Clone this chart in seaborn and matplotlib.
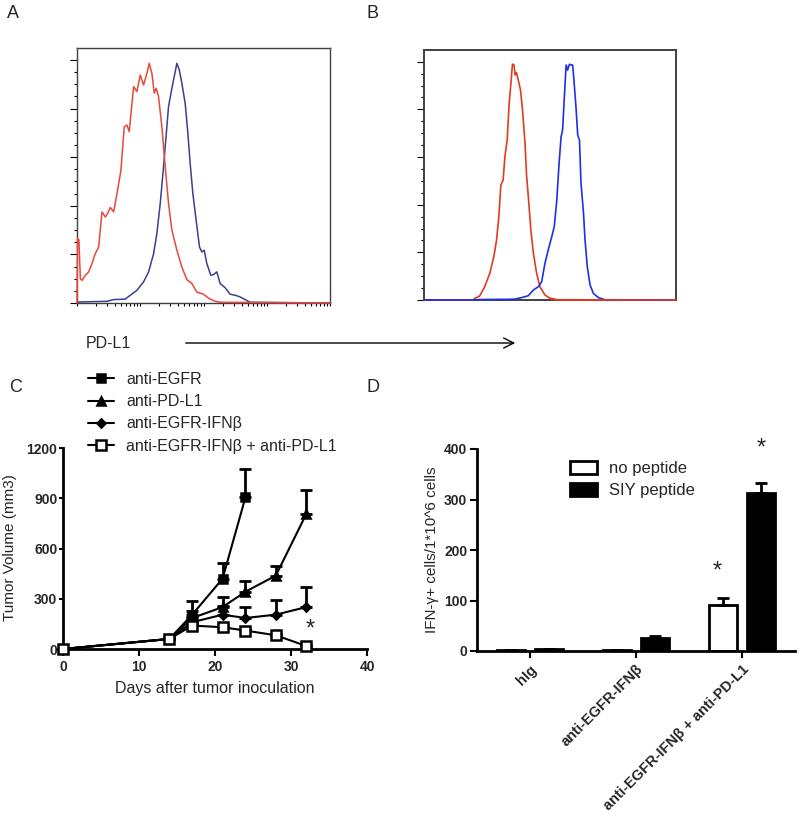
import numpy as np
import pandas as pd
import matplotlib
matplotlib.use("Agg")
import matplotlib.pyplot as plt
from matplotlib.ticker import FixedLocator, LogLocator, NullFormatter
import seaborn as sns

W, H = 800, 821

# panel A - flow histogram, x in log10 decades, y in % of max
a_red_dec = [0.000, 0.008, 0.030, 0.053, 0.079, 0.132, 0.184, 0.237, 0.289, 0.342, 0.395, 0.447,
             0.484, 0.526, 0.579, 0.632, 0.695, 0.747, 0.789, 0.826, 0.895, 0.947, 1.000, 1.053,
             1.105, 1.142, 1.184, 1.221, 1.253, 1.289, 1.342, 1.395, 1.447, 1.500, 1.579, 1.658,
             1.737, 1.816, 1.895, 2.000, 2.079, 2.184, 2.263, 4.000]
a_red_pct = [0, 26.5, 26.0, 10.0, 9.3, 11.4, 12.8, 16.2, 20.3, 23.0, 37.5, 35.4,
             36.8, 39.3, 37.5, 45.0, 54.7, 72.5, 73.2, 70.5, 89.0, 87.0, 93.8, 89.7,
             94.5, 98.6, 94.5, 86.3, 88.3, 84.9, 72.5, 56.0, 41.0, 30.0, 21.7, 14.8,
             9.6, 8.0, 4.5, 3.6, 2.0, 0.7, 0.3, 0]
a_blue_dec = [0.000, 0.474, 0.579, 0.763, 0.842, 0.947, 1.053, 1.132, 1.211, 1.263, 1.316, 1.368,
              1.421, 1.447, 1.500, 1.553, 1.579, 1.616, 1.658, 1.711, 1.753, 1.789, 1.832, 1.884,
              1.937, 1.974, 2.011, 2.053, 2.116, 2.158, 2.211, 2.263, 2.342, 2.421, 2.500, 2.579,
              2.658, 2.737, 4.000]
a_blue_pct = [0.4, 0.7, 1.4, 1.6, 3.2, 5.2, 8.7, 12.8, 20.3, 28.6, 41.0, 56.0,
              72.5, 80.8, 88.3, 95.2, 98.6, 96.0, 90.4, 82.0, 69.8, 57.4, 45.0, 34.0,
              23.0, 21.0, 21.7, 16.2, 11.4, 11.7, 12.8, 8.0, 6.3, 3.6, 3.2, 2.5,
              1.4, 0.3, 0]

# panel B - flow histogram, x in % of axis, y in % of max
b_red_x = [0, 19.5, 20.2, 22.1, 24.1, 26.1, 27.7, 28.8, 29.7, 30.5, 31.4, 32.1, 33.0, 33.8,
           34.5, 35.1, 35.7, 36.2, 36.7, 37.4, 38.3, 39.1, 40.1, 40.7, 41.5, 42.4, 43.4, 44.7,
           46.0, 48.0, 50.0, 52.7, 100]
b_red_pct = [0, 0, 0.7, 1.7, 5.6, 11.2, 18.2, 25.2, 35.0, 48.3, 50.3, 60.1, 67.1, 82.5,
             90.9, 99.0, 98.6, 94.4, 95.4, 92.3, 88.1, 79.7, 65.7, 52.4, 42.0, 29.4, 19.6, 11.2,
             5.6, 2.1, 0.7, 0.1, 0]
b_blue_x = [0, 19.5, 22.1, 34.1, 36.1, 38.7, 41.4, 43.4, 45.4, 46.7, 48.0, 49.3, 50.7, 51.7,
            52.7, 53.6, 54.4, 55.0, 55.7, 56.4, 57.0, 57.7, 58.4, 59.0, 59.5, 60.3, 61.0, 61.7,
            62.3, 63.3, 63.9, 64.8, 65.9, 67.2, 69.2, 71.9, 100]
b_blue_pct = [0, 0, 0.2, 0.3, 0.4, 1.0, 1.8, 4.2, 5.6, 7.7, 15.4, 21.0, 26.6, 30.8,
              42.0, 57.3, 68.5, 71.3, 85.3, 98.6, 96.5, 98.9, 98.6, 98.6, 92.3, 81.1, 69.2, 67.1,
              49.0, 36.4, 25.2, 14.0, 6.3, 2.8, 1.0, 0.1, 0]

# panel C - tumor growth
egfr_days = [0, 14, 17, 21, 24]
egfr_mean = [0, 60, 205, 420, 905]
egfr_err = [0, 5, 80, 95, 170]
pdl1_days = [0, 14, 17, 21, 24, 28, 32]
pdl1_mean = [0, 60, 185, 250, 342, 438, 805]
pdl1_err = [0, 5, 40, 58, 65, 55, 145]
ifnb_days = [0, 14, 17, 21, 24, 28, 32]
ifnb_mean = [0, 60, 160, 205, 185, 205, 250]
ifnb_err = [0, 5, 30, 50, 65, 90, 122]
combo_days = [0, 14, 17, 21, 24, 28, 32]
combo_mean = [0, 60, 140, 130, 110, 82, 18]
combo_err = [0, 5, 12, 12, 10, 8, 5]

# panel D - IFN-gamma spots
groups = ["hIg", "anti-EGFR-IFNβ", "anti-EGFR-IFNβ + anti-PD-L1"]
no_peptide = [2, 2, 92]
no_peptide_err = [0.5, 0.5, 13]
siy_peptide = [3, 25, 313]
siy_peptide_err = [0.5, 5, 19]

RED_A, BLUE_A = "#e8473c", "#3a3f8f"
RED_B, BLUE_B = "#e23a22", "#1e30e6"
FRAME = "#404040"


def rect(l, t, r, b):
    return [l / W, 1 - b / H, (r - l) / W, (b - t) / H]


def ftext(x, y, s, **kw):
    fig.text(x / W, 1 - y / H, s, **kw)


sns.set_style("ticks")
plt.rcParams["font.family"] = ["Liberation Sans", "DejaVu Sans"]

fig = plt.figure(figsize=(W / 100, H / 100), dpi=100)

hist_kw = dict(estimator=None, sort=False, clip_on=False, zorder=3)

# A
axA = fig.add_axes(rect(77, 48, 330, 303))
sns.lineplot(x=10 ** np.array(a_blue_dec), y=a_blue_pct, ax=axA, color=BLUE_A, lw=1.1, **hist_kw)
sns.lineplot(x=10 ** np.array(a_red_dec), y=a_red_pct, ax=axA, color=RED_A, lw=1.1, **hist_kw)
axA.set_xscale("log")
axA.set_xlim(1, 1e4)
axA.xaxis.set_major_locator(LogLocator(base=10, numticks=10))
axA.xaxis.set_minor_locator(LogLocator(base=10, subs=np.arange(2, 10), numticks=50))
axA.xaxis.set_major_formatter(NullFormatter())
axA.xaxis.set_minor_formatter(NullFormatter())
axA.tick_params(axis="x", which="both", length=2.5, width=0.8, color="black")

# B
axB = fig.add_axes(rect(424, 50, 676, 300))
sns.lineplot(x=b_red_x, y=b_red_pct, ax=axB, color=RED_B, lw=1.2, **hist_kw)
sns.lineplot(x=b_blue_x, y=b_blue_pct, ax=axB, color=BLUE_B, lw=1.2, **hist_kw)
sns.lineplot(x=b_red_x[-3:], y=b_red_pct[-3:], ax=axB, color=RED_B, lw=1.2, **hist_kw)
axB.set_xlim(0, 100)
axB.set_xticks([])

for ax, lw in ((axA, 1.0), (axB, 1.4)):
    ax.set_ylim(0, 104.9)
    ax.yaxis.set_major_locator(FixedLocator(np.arange(0, 101, 20)))
    ax.yaxis.set_minor_locator(FixedLocator(np.arange(0, 101, 5)))
    ax.set_yticklabels([])
    ax.tick_params(axis="y", which="major", length=5, width=0.8, color="black")
    ax.tick_params(axis="y", which="minor", length=2.5, width=0.8, color="black")
    ax.set_xlabel("")
    ax.set_ylabel("")
    for sp in ax.spines.values():
        sp.set_color(FRAME)
        sp.set_linewidth(lw)

# C
axC = fig.add_axes(rect(63, 448, 367, 649))
series = [
    ("anti-EGFR", egfr_days, egfr_mean, egfr_err, "s", "black", 6),
    ("anti-PD-L1", pdl1_days, pdl1_mean, pdl1_err, "^", "black", 5.5),
    ("anti-EGFR-IFNβ", ifnb_days, ifnb_mean, ifnb_err, "D", "black", 4.5),
    ("anti-EGFR-IFNβ + anti-PD-L1", combo_days, combo_mean, combo_err, "s", "white", 7),
]
handles = []
for name, days, mean, err, mk, face, ms in series:
    axC.errorbar(days, mean, yerr=[np.zeros(len(err)), err], fmt="none", ecolor="black",
                 elinewidth=2, capsize=4, capthick=2, clip_on=False, zorder=2)
for name, days, mean, err, mk, face, ms in series:
    sns.lineplot(x=days, y=mean, ax=axC, color="black", lw=1.5, marker=mk, markersize=ms,
                 markerfacecolor=face, markeredgecolor="black", markeredgewidth=1.8,
                 estimator=None, sort=False, clip_on=False, zorder=3)
    handles.append(axC.lines[-1])
axC.set_xlim(0, 40)
axC.set_ylim(0, 1200)
axC.set_xticks([0, 10, 20, 30, 40])
axC.set_yticks([0, 300, 600, 900, 1200])
axC.text(32.5, 115, "*", fontsize=17, ha="center", va="center")
axC.legend(handles, [s[0] for s in series], loc="upper left",
           bbox_to_anchor=(88 / W, 1 - 372 / H), bbox_transform=fig.transFigure,
           frameon=False, fontsize=11.5, handlelength=1.6, handletextpad=0.8,
           labelspacing=0.45, borderpad=0, borderaxespad=0)

# D
axD = fig.add_axes(rect(477, 449, 795, 651))
df = pd.DataFrame({
    "group": groups * 2,
    "condition": ["no peptide"] * 3 + ["SIY peptide"] * 3,
    "value": no_peptide + siy_peptide,
})
sns.barplot(data=df, x="group", y="value", hue="condition", ax=axD, errorbar=None,
            palette={"no peptide": "white", "SIY peptide": "black"}, edgecolor="black",
            linewidth=2, width=0.72, gap=0.27, saturation=1)
for cont, errs in zip(axD.containers, (no_peptide_err, siy_peptide_err)):
    xs = [b.get_x() + b.get_width() / 2 for b in cont]
    ys = [b.get_height() for b in cont]
    axD.errorbar(xs, ys, yerr=[np.zeros(3), errs], fmt="none", ecolor="black",
                 elinewidth=2, capsize=4, capthick=2, zorder=1)
axD.set_xlim(-0.5, 2.5)
axD.set_ylim(0, 400)
axD.set_yticks([0, 100, 200, 300, 400])
axD.set_xlabel("")
axD.set_ylabel("")
axD.set_xticks([0, 1, 2])
axD.set_xticklabels(groups, rotation=45, ha="right", rotation_mode="anchor",
                    fontsize=10.5, fontweight="bold")
no_x = [b.get_x() + b.get_width() / 2 for b in axD.containers[0]]
siy_x = [b.get_x() + b.get_width() / 2 for b in axD.containers[1]]
axD.text(no_x[2] - 0.05, 158, "*", fontsize=17, ha="center", va="center")
axD.text(siy_x[2], 400, "*", fontsize=17, ha="center", va="center")
axD.legend(loc="upper left", bbox_to_anchor=(570 / W, 1 - 461 / H),
           bbox_transform=fig.transFigure, frameon=False, fontsize=12,
           handlelength=1.6, handleheight=0.8, handletextpad=0.75,
           labelspacing=0.4, borderpad=0, borderaxespad=0)

for ax in (axC, axD):
    sns.despine(ax=ax)
    for sp in ("left", "bottom"):
        ax.spines[sp].set_linewidth(2)
        ax.spines[sp].set_color("black")
    ax.tick_params(axis="both", width=1.5, color="black", labelsize=10)
    for lab in ax.get_yticklabels():
        lab.set_fontweight("bold")
axC.tick_params(axis="y", length=3, pad=1)
axC.tick_params(axis="x", length=5, pad=3)
for lab in axC.get_xticklabels():
    lab.set_fontweight("bold")
axD.tick_params(axis="y", length=5, pad=2)
axD.tick_params(axis="x", length=5, pad=3)
for lab in axD.get_xticklabels():
    lab.set_fontsize(10.5)

# labels
ftext(215, 688, "Days after tumor inoculation", fontsize=11.5, ha="center", va="center")
ftext(10, 548, "Tumor Volume (mm3)", fontsize=11, ha="center", va="center", rotation=90)
ftext(432, 550, "IFN-γ+ cells/1*10^6 cells", fontsize=11, ha="center", va="center", rotation=90)
ftext(86, 343, "PD-L1", fontsize=11.5, ha="left", va="center")
fig.add_artist(matplotlib.patches.FancyArrowPatch(
    (183 / W, 1 - 343 / H), (518 / W, 1 - 343 / H), transform=fig.transFigure,
    arrowstyle="->", mutation_scale=18, lw=1.0, color="black"))
for s, x, y in (("A", 13, 13), ("B", 373, 13), ("C", 16, 387), ("D", 373, 387)):
    ftext(x, y, s, fontsize=13, ha="center", va="center")

fig.savefig("out.png", dpi=100)
